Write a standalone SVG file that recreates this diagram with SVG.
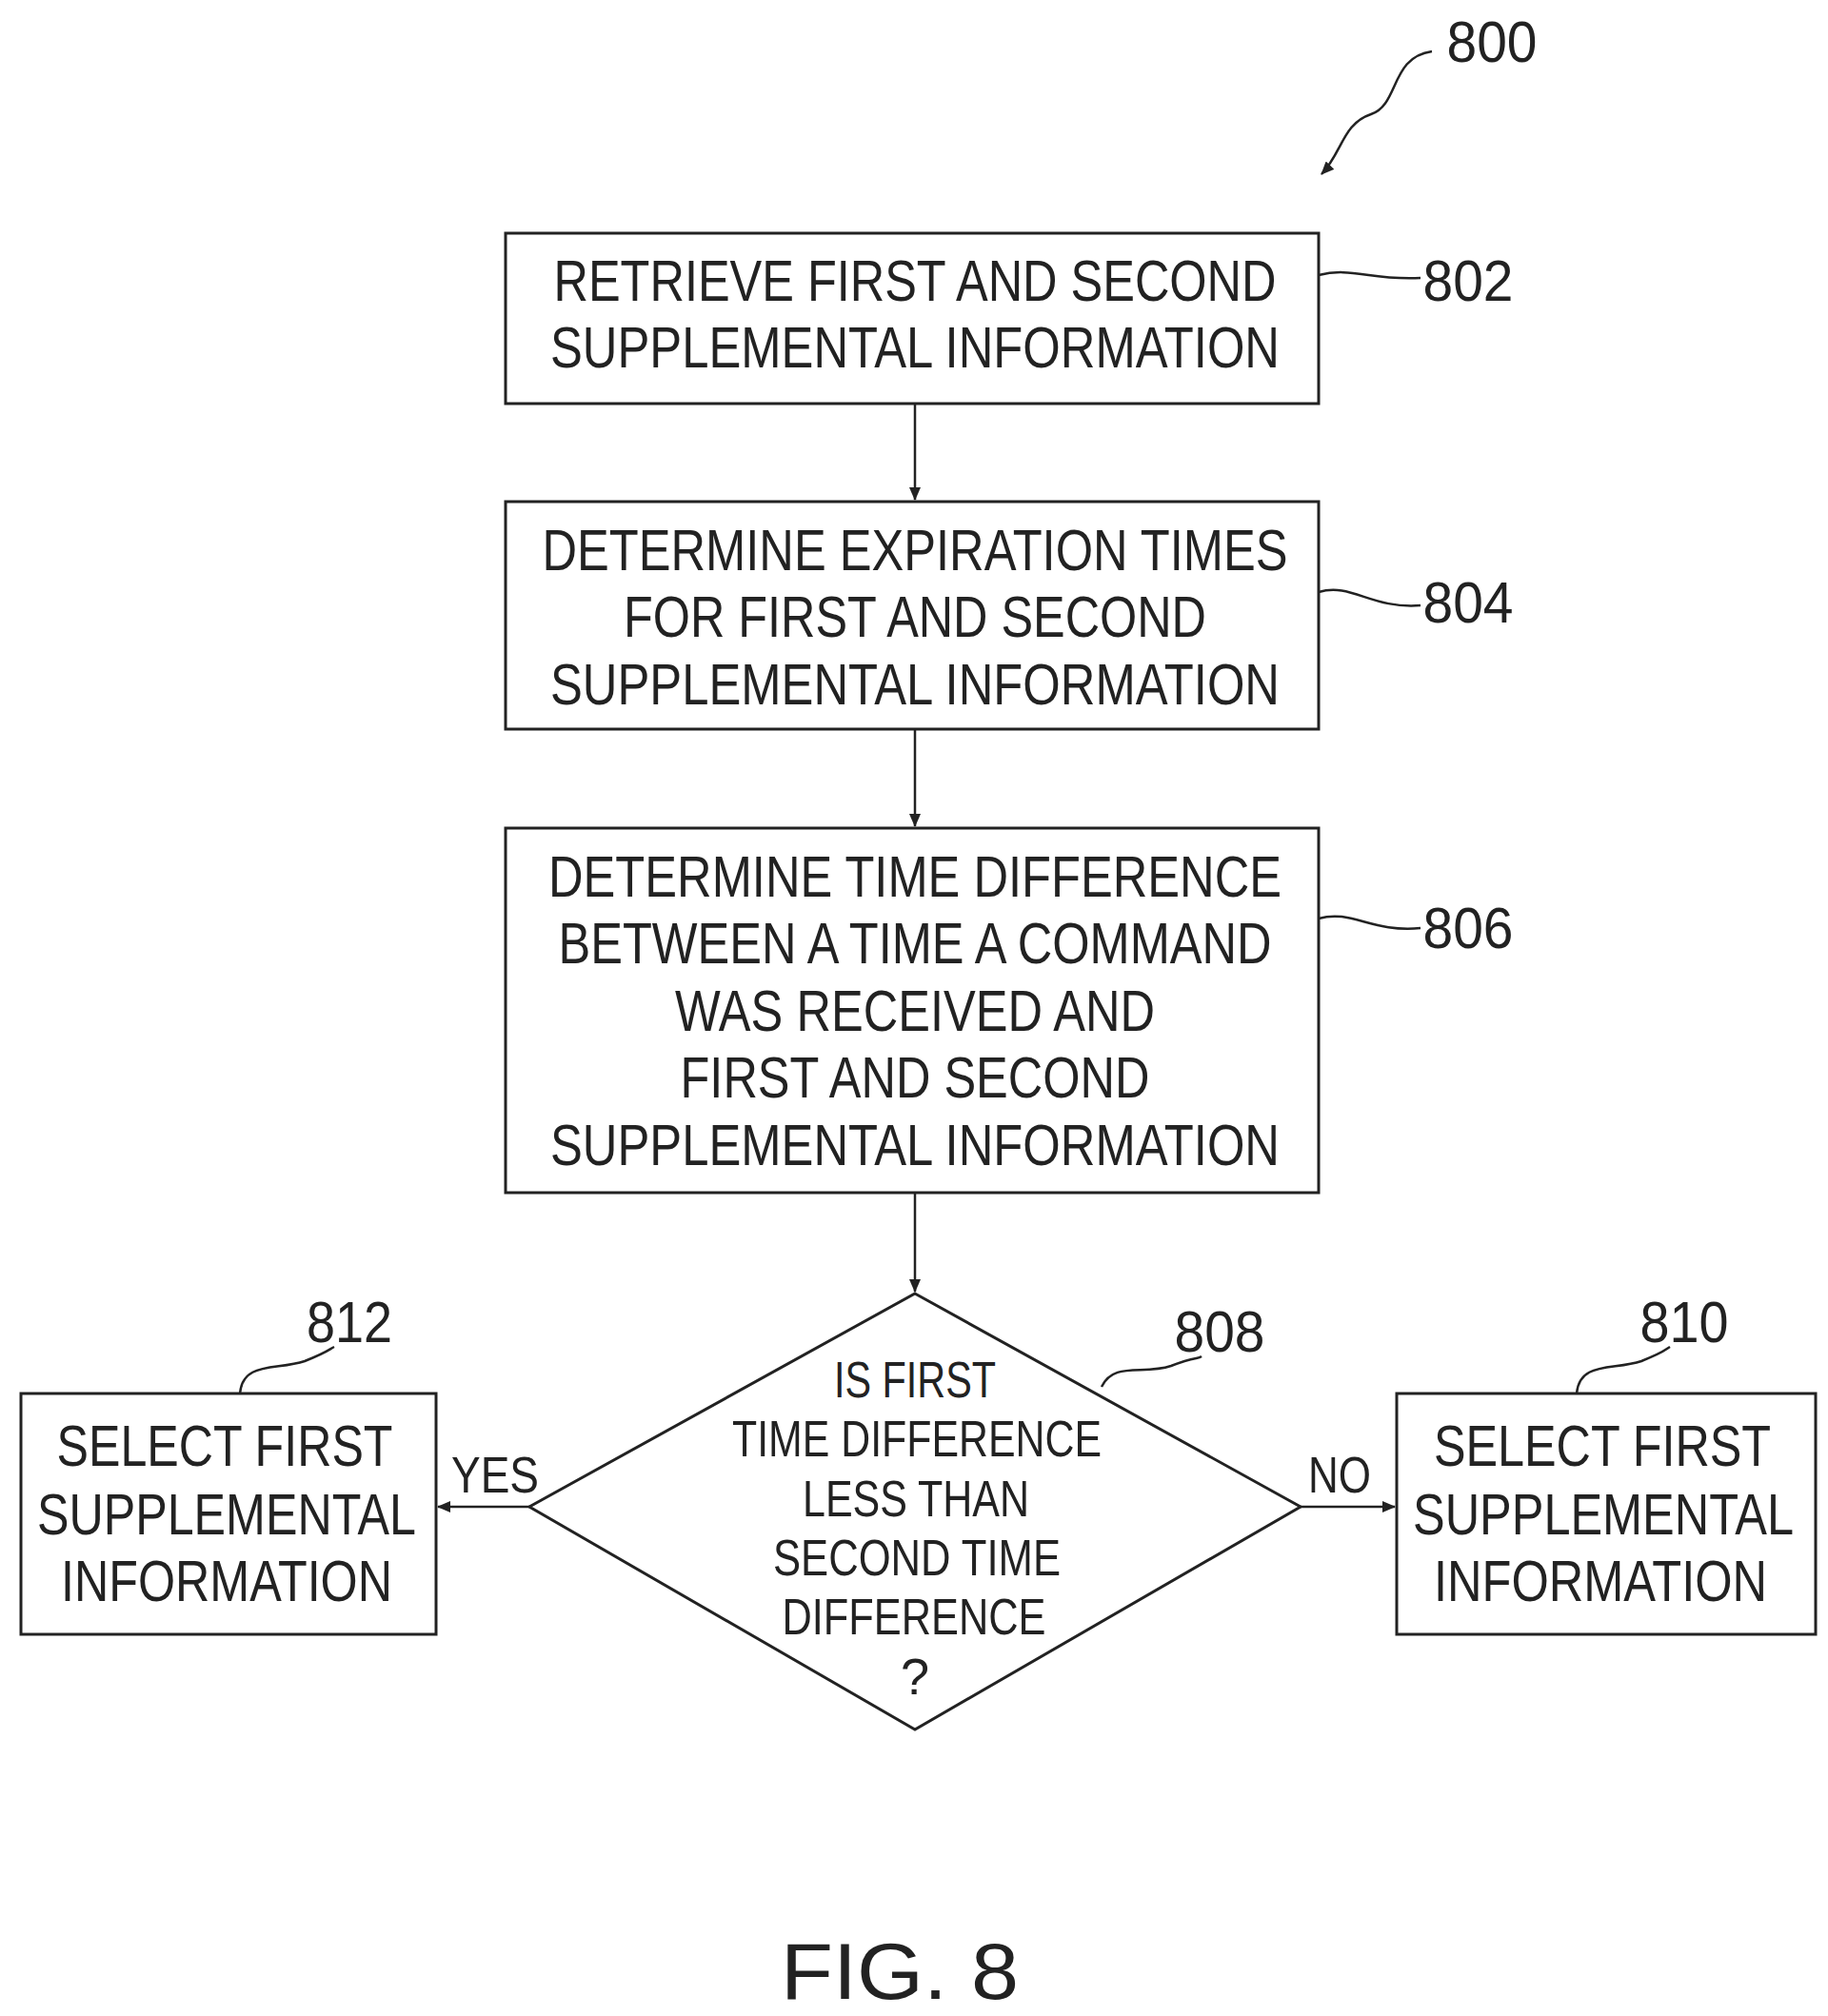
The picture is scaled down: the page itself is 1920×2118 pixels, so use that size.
<svg xmlns="http://www.w3.org/2000/svg" width="1920" height="2118" viewBox="0 0 1920 2118">
<style>
.b{fill:#fff;stroke:#222;stroke-width:3}
.t{font-family:"Liberation Sans",Arial,sans-serif;font-size:62px;fill:#222;text-anchor:middle}
.s{font-size:54px}
.l{fill:none;stroke:#222;stroke-width:2.5}
</style>
<defs><marker id="a" markerWidth="14" markerHeight="12" refX="13" refY="6" orient="auto" markerUnits="userSpaceOnUse"><path d="M0,0L14,6L0,12z" fill="#222"/></marker></defs>
<rect width="1920" height="2118" fill="#fff"/>
<g id="connectors">
<path class="l" d="M961,424V525" marker-end="url(#a)"/>
<path class="l" d="M961,766V868" marker-end="url(#a)"/>
<path class="l" d="M961,1253V1357" marker-end="url(#a)"/>
<path class="l" d="M556,1583H460" marker-end="url(#a)"/>
<path class="l" d="M1366,1583H1465" marker-end="url(#a)"/>
<path class="l" d="M1504,54C1460,60 1470,110 1440,120C1410,130 1410,160 1388,183" marker-end="url(#a)"/>
<path class="l" d="M1385,289C1420,280 1440,295 1492,292"/>
<path class="l" d="M1385,622C1420,612 1440,640 1492,636"/>
<path class="l" d="M1385,965C1420,955 1440,980 1492,975"/>
<path class="l" d="M252,1464C255,1430 290,1440 320,1430C345,1420 345,1418 351,1415"/>
<path class="l" d="M1157,1457C1170,1430 1200,1445 1230,1435C1255,1425 1258,1428 1262,1425"/>
<path class="l" d="M1656,1464C1659,1430 1694,1440 1724,1430C1749,1420 1749,1418 1754,1415"/>
</g>
<g id="n802"><rect class="b" x="531" y="245" width="854" height="179"/>
<text class="t" x="961" y="316" textLength="759" lengthAdjust="spacingAndGlyphs">RETRIEVE FIRST AND SECOND</text>
<text class="t" x="961" y="386" textLength="766" lengthAdjust="spacingAndGlyphs">SUPPLEMENTAL INFORMATION</text></g>
<g id="n804"><rect class="b" x="531" y="527" width="854" height="239"/>
<text class="t" x="961" y="599" textLength="783" lengthAdjust="spacingAndGlyphs">DETERMINE EXPIRATION TIMES</text>
<text class="t" x="961" y="669" textLength="612" lengthAdjust="spacingAndGlyphs">FOR FIRST AND SECOND</text>
<text class="t" x="961" y="740" textLength="766" lengthAdjust="spacingAndGlyphs">SUPPLEMENTAL INFORMATION</text></g>
<g id="n806"><rect class="b" x="531" y="870" width="854" height="383"/>
<text class="t" x="961" y="942" textLength="770" lengthAdjust="spacingAndGlyphs">DETERMINE TIME DIFFERENCE</text>
<text class="t" x="961" y="1012" textLength="749" lengthAdjust="spacingAndGlyphs">BETWEEN A TIME A COMMAND</text>
<text class="t" x="961" y="1083" textLength="504" lengthAdjust="spacingAndGlyphs">WAS RECEIVED AND</text>
<text class="t" x="961" y="1153" textLength="493" lengthAdjust="spacingAndGlyphs">FIRST AND SECOND</text>
<text class="t" x="961" y="1224" textLength="766" lengthAdjust="spacingAndGlyphs">SUPPLEMENTAL INFORMATION</text></g>
<g id="n808"><path class="b" d="M961,1359L1366,1583L961,1817L556,1583Z"/>
<text class="t s" x="961" y="1468" textLength="170" lengthAdjust="spacingAndGlyphs">IS FIRST</text>
<text class="t s" x="963" y="1530" textLength="388" lengthAdjust="spacingAndGlyphs">TIME DIFFERENCE</text>
<text class="t s" x="962" y="1593" textLength="238" lengthAdjust="spacingAndGlyphs">LESS THAN</text>
<text class="t s" x="963" y="1655" textLength="302" lengthAdjust="spacingAndGlyphs">SECOND TIME</text>
<text class="t s" x="960" y="1717" textLength="277" lengthAdjust="spacingAndGlyphs">DIFFERENCE</text>
<text class="t s" x="961" y="1780">?</text></g>
<g id="n812"><rect class="b" x="22" y="1464" width="436" height="253"/>
<text class="t" x="236" y="1540" textLength="353" lengthAdjust="spacingAndGlyphs">SELECT FIRST</text>
<text class="t" x="238" y="1612" textLength="398" lengthAdjust="spacingAndGlyphs">SUPPLEMENTAL</text>
<text class="t" x="238" y="1682" textLength="348" lengthAdjust="spacingAndGlyphs">INFORMATION</text></g>
<g id="n810"><rect class="b" x="1467" y="1464" width="440" height="253"/>
<text class="t" x="1683" y="1540" textLength="354" lengthAdjust="spacingAndGlyphs">SELECT FIRST</text>
<text class="t" x="1684" y="1612" textLength="400" lengthAdjust="spacingAndGlyphs">SUPPLEMENTAL</text>
<text class="t" x="1681" y="1682" textLength="350" lengthAdjust="spacingAndGlyphs">INFORMATION</text></g>
<g id="labels">
<text class="t s" x="520" y="1568" textLength="92" lengthAdjust="spacingAndGlyphs">YES</text>
<text class="t s" x="1407" y="1568" textLength="66" lengthAdjust="spacingAndGlyphs">NO</text>
<text class="t" x="1567" y="65" textLength="95" lengthAdjust="spacingAndGlyphs">800</text>
<text class="t" x="1542" y="316" textLength="95" lengthAdjust="spacingAndGlyphs">802</text>
<text class="t" x="1542" y="654" textLength="95" lengthAdjust="spacingAndGlyphs">804</text>
<text class="t" x="1542" y="996" textLength="95" lengthAdjust="spacingAndGlyphs">806</text>
<text class="t" x="367" y="1410" textLength="90" lengthAdjust="spacingAndGlyphs">812</text>
<text class="t" x="1281" y="1420" textLength="95" lengthAdjust="spacingAndGlyphs">808</text>
<text class="t" x="1769" y="1410" textLength="93" lengthAdjust="spacingAndGlyphs">810</text>
<text class="t" x="945" y="2100" style="font-size:84px" textLength="250" lengthAdjust="spacingAndGlyphs">FIG. 8</text>
</g>
</svg>
